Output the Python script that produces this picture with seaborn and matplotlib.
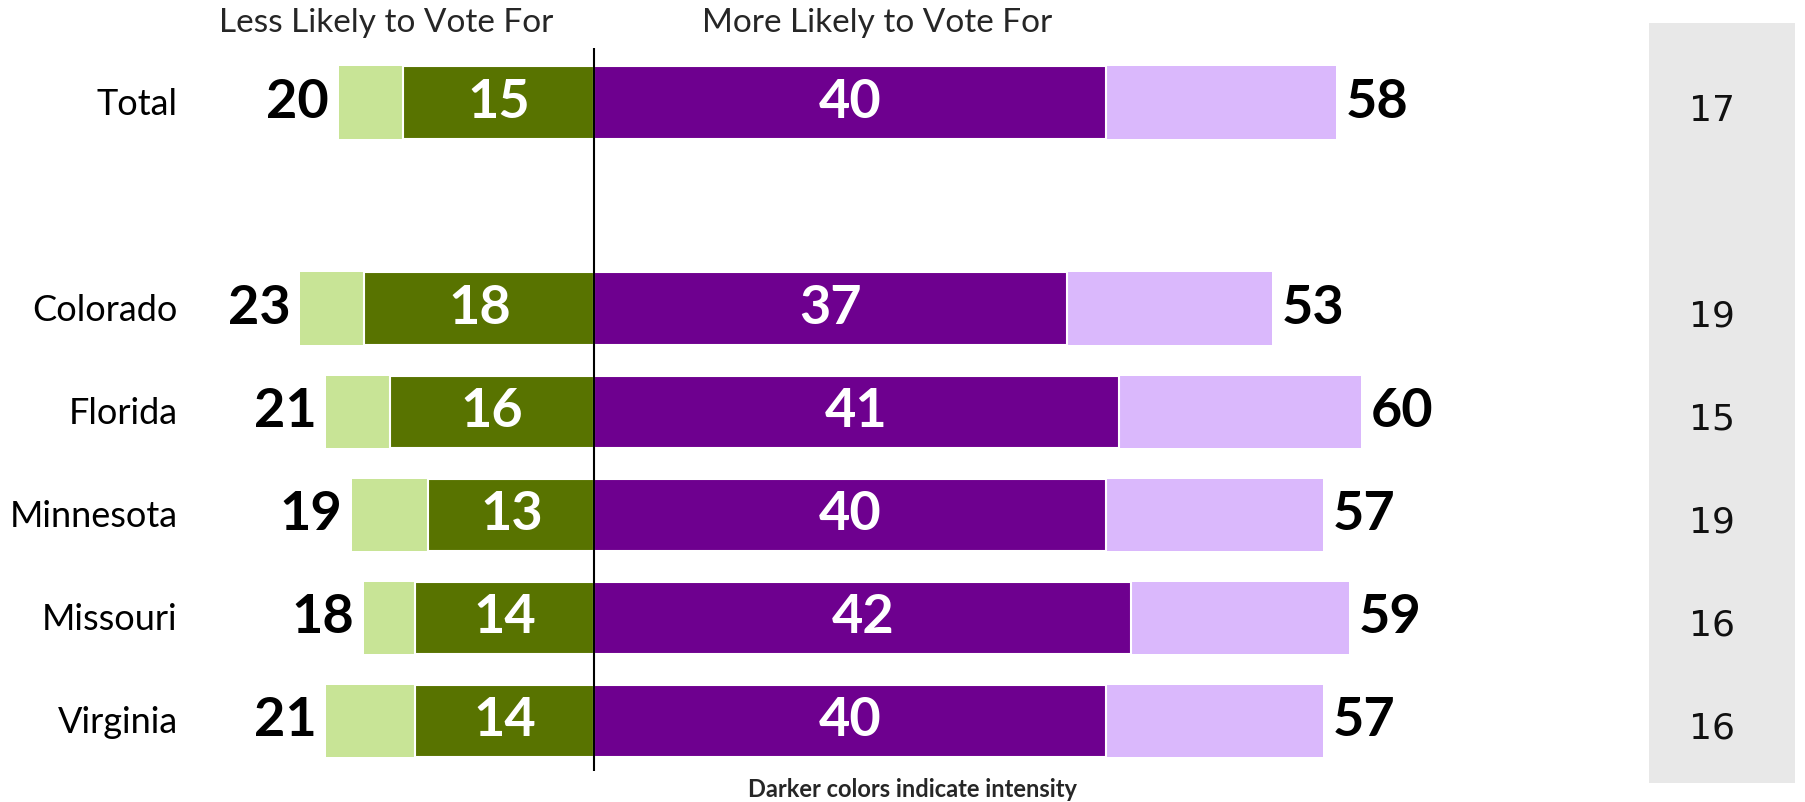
import matplotlib
matplotlib.use("Agg")
import matplotlib.pyplot as plt
import matplotlib.patches as mpatches
import matplotlib.transforms as mtransforms
import pandas as pd
import seaborn as sns

# Survey results: share less / more likely to vote for, with the intense share
categories = ["Total", "Colorado", "Florida", "Minnesota", "Missouri", "Virginia"]
less_total = [20, 23, 21, 19, 18, 21]
less_strong = [15, 18, 16, 13, 14, 14]
more_total = [58, 53, 60, 57, 59, 57]
more_strong = [40, 37, 41, 40, 42, 40]
no_difference = [17, 19, 15, 19, 16, 16]

header_left = "Less Likely to Vote For"
header_right = "More Likely to Vote For"
footnote = "Darker colors indicate intensity"

GREEN_DARK = "#587300"
GREEN_LIGHT = "#c8e496"
PURPLE_DARK = "#6e008f"
PURPLE_LIGHT = "#dab8fc"
BOX_GREY = "#e8e8e8"

sns.set_theme(style="white")
plt.rcParams["font.family"] = ["Lato", "DejaVu Sans"]

df = pd.DataFrame({
    "category": categories,
    "less_total": [-v for v in less_total],
    "less_strong": [-v for v in less_strong],
    "more_total": more_total,
    "more_strong": more_strong,
})

# a blank level between Total and the states leaves an empty row
order = [categories[0], " "] + categories[1:]

fig = plt.figure(figsize=(18.05, 8.02), dpi=100)
fig.patches.append(mpatches.Rectangle((0.9136, 0.0237), 0.0809, 0.9473,
                                      transform=fig.transFigure,
                                      facecolor=BOX_GREY, edgecolor="none", zorder=-1))
ax = fig.add_axes([0, 0, 1, 1])
ax.patch.set_alpha(0)

common = dict(data=df, y="category", order=order, orient="h", width=0.7,
              errorbar=None, saturation=1, ax=ax)
sns.barplot(x="less_total", color=GREEN_LIGHT, linewidth=0, **common)
sns.barplot(x="less_strong", color=GREEN_DARK, edgecolor="white", linewidth=1.5, **common)
sns.barplot(x="more_total", color=PURPLE_LIGHT, linewidth=0, **common)
sns.barplot(x="more_strong", color=PURPLE_DARK, edgecolor="white", linewidth=1.5, **common)

c_less_total, c_less_strong, c_more_total, c_more_strong = ax.containers[:4]
absfmt = lambda v: f"{abs(v):.0f}"
for cont in (c_less_total, c_more_total):
    ax.bar_label(cont, fmt=absfmt, padding=7, fontsize=39, fontweight="bold",
                 color="black")
for cont in (c_less_strong, c_more_strong):
    ax.bar_label(cont, fmt=absfmt, label_type="center", fontsize=39,
                 fontweight="bold", color="white")

ax.set_xlim(-46.5, 94.7)
ax.set_ylim(6.79, -0.995)
ax.axis("off")

# category names, right aligned to the left of the bars
rows = [order.index(c) for c in categories]
for name, r in zip(categories, rows):
    ax.text(-32.6, r + 0.02, name, ha="right", va="center", fontsize=26, color="black")

# centre divider
ax.vlines(0, -0.53, 6.49, color="black", linewidth=1.5, zorder=5)

# column headers
ax.text(-16.3, -0.77, header_left, ha="center", va="center", fontsize=24)
ax.text(22.1, -0.77, header_right, ha="center", va="center", fontsize=24)

# neutral column in the grey box
blend = mtransforms.blended_transform_factory(fig.transFigure, ax.transData)
for v, r in zip(no_difference, rows):
    ax.text(0.9485, r + 0.08, str(v), transform=blend, ha="center", va="center",
            fontsize=26, family="DejaVu Sans", color="#111111")

ax.text(24.9, 6.67, footnote, ha="center", va="center", fontsize=17,
        fontweight="bold")

fig.savefig("out.png", dpi=100)
